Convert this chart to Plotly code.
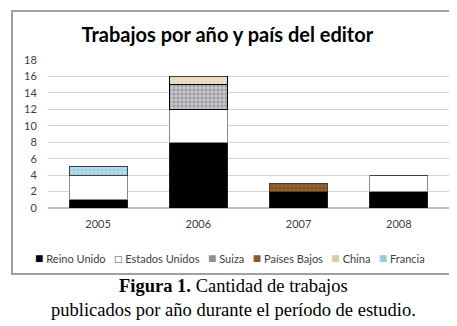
import plotly.graph_objects as go

years = ["2005", "2006", "2007", "2008"]
reino_unido = [1, 8, 2, 2]
estados_unidos = [3, 4, 0, 2]
suiza = [0, 3, 0, 0]
paises_bajos = [0, 0, 1, 0]
china = [0, 1, 0, 0]
francia = [1, 0, 0, 0]

series = [
    ("Reino Unido", reino_unido, dict(color="#000000", line=dict(color="#202020", width=1))),
    ("Estados Unidos", estados_unidos, dict(color="#ffffff", line=dict(color="#8c8c8c", width=1))),
    ("Suiza", suiza, dict(color="#b4b6ba", line=dict(color="#000000", width=1),
                          pattern=dict(shape=".", fgcolor="#6e7074", bgcolor="#c4c6ca", size=4, solidity=0.4))),
    ("Países Bajos", paises_bajos, dict(color="#8a5a2c", line=dict(color="#5a3a1a", width=1),
                                        pattern=dict(shape=".", fgcolor="#a87840", bgcolor="#86562a", size=4, solidity=0.3))),
    ("China", china, dict(color="#e8d8b8", line=dict(color="#000000", width=1),
                          pattern=dict(shape=".", fgcolor="#d8c49c", bgcolor="#ecdfc4", size=4, solidity=0.3))),
    ("Francia", francia, dict(color="#a6d3e2", line=dict(color="#404040", width=1),
                              pattern=dict(shape=".", fgcolor="#8cc0d4", bgcolor="#b2dae8", size=4, solidity=0.3))),
]
legend_square = {"Estados Unidos": ("□", "#8c8c8c")}
legend_fill = {"Reino Unido": "#000000", "Suiza": "#8e9094", "Países Bajos": "#8a5a2c",
               "China": "#dccaa4", "Francia": "#9ccbdc"}

fig = go.Figure()
for name, vals, marker in series:
    fig.add_trace(go.Bar(name=name, x=years, y=vals, marker=marker, width=0.58, showlegend=False))

W, H = 457, 326
L, R, T, B = 40, 16, 52, 126
pw, ph = W - L - R, H - T - B


def px_x(x):
    return (x - L) / pw


def px_y(y):
    return (H - B - y) / ph


fig.update_layout(
    barmode="stack",
    width=W, height=H,
    margin=dict(l=L, r=R, t=T, b=B),
    paper_bgcolor="white", plot_bgcolor="white",
    font=dict(family="Lato, Open Sans, sans-serif", size=11, color="#404040"),
    title=dict(text="<b>Trabajos por año y país del editor</b>", x=0.48, xanchor="center",
               y=1 - 27 / H, yanchor="middle",
               font=dict(family="Lato, Open Sans, sans-serif", size=20, color="#000000")),
    xaxis=dict(showgrid=False, showline=False, ticks="outside", ticklen=6,
               tickcolor="rgba(0,0,0,0)", tickfont=dict(size=11, color="#404040")),
    yaxis=dict(range=[0, 18], dtick=2, showgrid=True, gridcolor="#d4d4d4", gridwidth=1,
               zeroline=True, zerolinecolor="#bdbdbd", showline=False,
               ticks="outside", ticklen=8, tickcolor="rgba(0,0,0,0)",
               tickfont=dict(size=11, color="#404040")),
    showlegend=False,
)

# chart frame
fig.add_shape(type="rect", xref="paper", yref="paper",
              x0=px_x(4), x1=px_x(452), y0=px_y(266), y1=px_y(3),
              line=dict(color="#a0a0a0", width=2), layer="below")

# legend (as text)
parts = []
for name, vals, marker in series:
    if name in legend_square:
        ch, col = legend_square[name]
    else:
        ch, col = "■", legend_fill[name]
    parts.append(f'<span style="color:{col};font-size:14px">{ch}</span>&nbsp;{name}')
legend_text = "&nbsp;&nbsp;&nbsp;".join(parts)
fig.add_annotation(xref="paper", yref="paper", x=px_x(222), y=px_y(249),
                   text=legend_text, showarrow=False,
                   font=dict(family="Lato, Open Sans, sans-serif", size=11, color="#404040"),
                   xanchor="center", yanchor="middle")

# caption
fig.add_annotation(xref="paper", yref="paper", x=px_x(225), y=px_y(290),
                   text="<b>Figura 1.</b> Cantidad de trabajos<br>publicados por año durante el período de estudio.",
                   showarrow=False, align="center",
                   font=dict(family="Liberation Serif, serif", size=18.5, color="#000000"),
                   xanchor="center", yanchor="middle")

fig.write_html("out.html")
